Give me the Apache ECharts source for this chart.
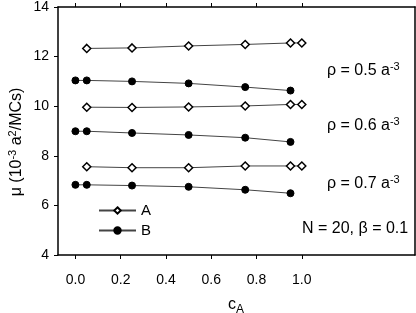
<!DOCTYPE html>
<html><head><meta charset="utf-8">
<script src="https://cdn.jsdelivr.net/npm/echarts@6/dist/echarts.min.js"></script>
<style>html,body{margin:0;padding:0;background:#fff}#c{width:416px;height:313px}</style>
</head><body><div id="c"></div>
<script>
const xA = [0.05, 0.25, 0.5, 0.75, 0.95, 1.0];
const xB = [0.0, 0.05, 0.25, 0.5, 0.75, 0.95];
const A05 = [12.33, 12.35, 12.43, 12.49, 12.55, 12.55];
const B05 = [11.04, 11.04, 11.0, 10.92, 10.77, 10.63];
const A06 = [9.96, 9.95, 9.97, 10.01, 10.07, 10.07];
const B06 = [8.99, 8.99, 8.92, 8.84, 8.73, 8.56];
const A07 = [7.56, 7.52, 7.52, 7.59, 7.59, 7.59];
const B07 = [6.83, 6.83, 6.80, 6.75, 6.63, 6.49];
const xTicks = [0.0, 0.2, 0.4, 0.6, 0.8, 1.0];
const FONT = 'Liberation Sans';

function pair(xs, ys){ return xs.map((x,i)=>[x, ys[i]]); }
function ser(name, xs, ys){
  const isA = name === 'A';
  return {
    name, type:'line', data: pair(xs, ys),
    symbol: isA ? 'diamond' : 'circle',
    symbolSize: isA ? 8 : 7,
    lineStyle:{color:'#444', width:1},
    itemStyle:{color: isA ? '#fff' : '#000', borderColor:'#000', borderWidth: isA ? 1.5 : 1},
    emphasis:{disabled:true}, animation:false
  };
}
const chart = echarts.init(document.getElementById('c'), null, {renderer:'canvas'});
const axBase = {
  type:'value', min:-0.077, max:1.5,
  axisLine:{show:true, onZero:false, lineStyle:{color:'#000', width:1.5}},
  splitLine:{show:false}
};
const sup = {fontSize:11, fontFamily:FONT, verticalAlign:'top', padding:[0,0,8,0]};
chart.setOption({
  animation:false,
  grid:{left:58, top:5, right:1, bottom:58},
  xAxis:[
    Object.assign({}, axBase, {position:'bottom',
      axisTick:{show:true, inside:false, length:4, customValues:xTicks, lineStyle:{color:'#000'}},
      axisLabel:{customValues:xTicks, margin:18, fontFamily:FONT, fontSize:14, color:'#000',
        formatter:v=>v.toFixed(1)}}),
    Object.assign({}, axBase, {position:'top',
      axisTick:{show:true, inside:false, length:4, customValues:xTicks, lineStyle:{color:'#000'}},
      axisLabel:{show:false}})
  ],
  yAxis:[
    {type:'value', min:4, max:14, interval:2, position:'left',
     axisLine:{show:true, onZero:false, lineStyle:{color:'#000', width:1.5}},
     axisTick:{show:true, inside:false, length:4, lineStyle:{color:'#000'}},
     axisLabel:{margin:9, fontFamily:FONT, fontSize:14, color:'#000'},
     splitLine:{show:false}},
    {type:'value', min:4, max:14, interval:2, position:'right',
     axisLine:{show:true, onZero:false, lineStyle:{color:'#000', width:1.5}},
     axisTick:{show:false}, axisLabel:{show:false}, splitLine:{show:false}}
  ],
  legend:{
    data:['A','B'], orient:'vertical', left:98, top:203, padding:0,
    itemWidth:37, itemHeight:8, itemGap:5,
    textStyle:{fontFamily:FONT, fontSize:15, color:'#000', padding:[0,0,0,0]},
    selectedMode:false
  },
  series:[
    ser('A', xA, A05), ser('B', xB, B05),
    ser('A', xA, A06), ser('B', xB, B06),
    ser('A', xA, A07), ser('B', xB, B07)
  ],
  graphic:[
    {type:'text', left:327, top:61, style:{text:'ρ = 0.5 a{s|-3}', font:'16px '+FONT, fill:'#000', rich:{s:sup}}},
    {type:'text', left:327, top:116, style:{text:'ρ = 0.6 a{s|-3}', font:'16px '+FONT, fill:'#000', rich:{s:sup}}},
    {type:'text', left:327, top:174, style:{text:'ρ = 0.7 a{s|-3}', font:'16px '+FONT, fill:'#000', rich:{s:sup}}},
    {type:'text', left:302, top:221, style:{text:'N = 20, β = 0.1', font:'16px '+FONT, fill:'#000'}},
    {type:'text', left:228, top:297, style:{text:'c{s|A}', font:'16px '+FONT, fill:'#000',
      rich:{s:{fontSize:12, fontFamily:FONT, padding:[9,0,0,0]}}}},
    {type:'text', x:17, y:142, rotation:Math.PI/2,
     style:{text:'μ (10{s|-3} a{s|2}/MCs)', font:'16px '+FONT, fill:'#000', align:'center', verticalAlign:'middle',
      rich:{s:sup}}}
  ]
});
</script></body></html>
